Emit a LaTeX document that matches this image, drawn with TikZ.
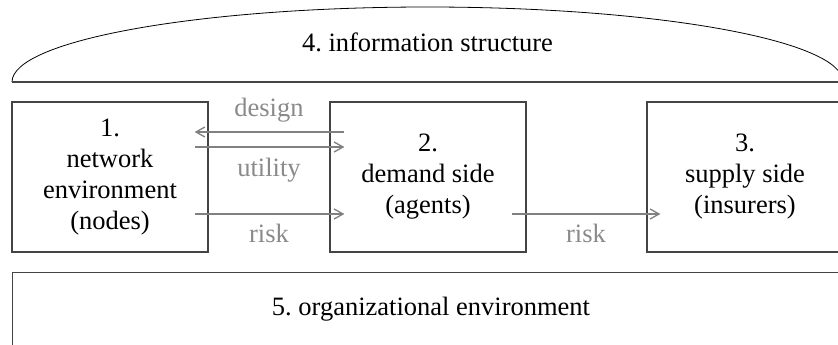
\documentclass[tikz,border=0pt]{standalone}
\usepackage{fontspec}
\setmainfont{Liberation Serif}
\usetikzlibrary{arrows.meta,calc}
\frenchspacing
\definecolor{boxline}{HTML}{444444}
\definecolor{arrcol}{HTML}{808080}
\definecolor{labcol}{HTML}{8A8A8A}
\tikzset{
  mainbox/.style={draw=boxline, line width=1.2pt, rectangle, minimum width=196pt, minimum height=150pt, inner sep=0pt, align=center, font=\fontsize{26.5}{31}\selectfont},
  arr/.style={draw=arrcol, line width=1.6pt, -{Straight Barb[length=9pt,width=10pt,line width=1.3pt]}},
  lab/.style={text=labcol, anchor=base, inner sep=0pt, font=\fontsize{26.5}{31}\selectfont},
  bigtext/.style={anchor=base, inner sep=0pt, font=\fontsize{26.5}{31}\selectfont}
}
\begin{document}
\begin{tikzpicture}[x=1pt,y=-1pt]
\useasboundingbox (0,0) rectangle (838,345);
\clip (0,0) rectangle (838,345);
% information structure
\draw[black, line width=0.8pt] (12,82) arc[start angle=180, end angle=0, x radius=415.5pt, y radius=75pt];
\draw[boxline, line width=1.2pt] (12,82) -- (843,82);
\node[bigtext] (info) at (427.5,52) {4. information structure};
% boxes
\node[mainbox] (b1) at (110,177) {1.\\network\\environment\\(nodes)};
\node[mainbox] (b2) at (428,177) {2.\\demand side\\(agents)};
\node[mainbox] (b3) at (745,177) {3.\\supply side\\(insurers)};
% organizational environment
\node[draw=boxline, line width=1.2pt, rectangle, minimum width=831pt, minimum height=100pt, inner sep=0pt, anchor=north west] (b5) at (12,272) {};
\node[bigtext] (org) at (431,315) {5. organizational environment};
% arrows
\draw[arr] ([xshift=15pt,yshift=45pt]b2.west) -- ([xshift=-14pt,yshift=45pt]b1.east);
\draw[arr] ([xshift=-14pt,yshift=30pt]b1.east) -- ([xshift=15pt,yshift=30pt]b2.west);
\draw[arr] ([xshift=-14pt,yshift=-37pt]b1.east) -- ([xshift=15pt,yshift=-37pt]b2.west);
\draw[arr] ([xshift=-15pt,yshift=-37pt]b2.east) -- ([xshift=14pt,yshift=-37pt]b3.west);
% labels
\node[lab] (ldesign) at (269,116) {design};
\node[lab] (lutil) at (269,176) {utility};
\node[lab] (lrisk1) at (269,242) {risk};
\node[lab] (lrisk2) at (586,242) {risk};
\end{tikzpicture}
\end{document}
